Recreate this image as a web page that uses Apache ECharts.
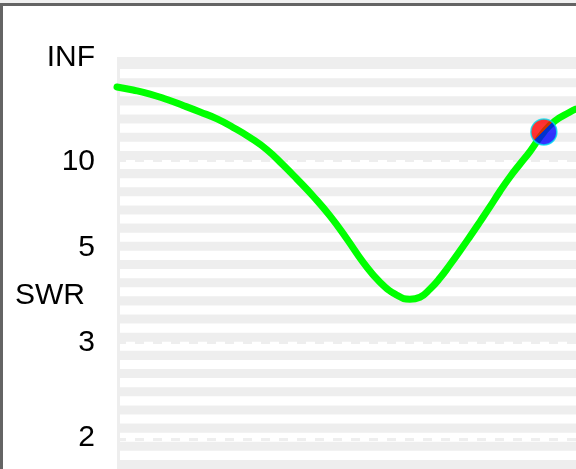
<!DOCTYPE html>
<html><head><meta charset="utf-8">
<script src="https://cdn.jsdelivr.net/npm/echarts@6/dist/echarts.min.js"></script>
<style>
html,body{margin:0;padding:0;background:#fff;}
#chart{position:absolute;left:0;top:0;width:576px;height:469px;}
.b{position:absolute;pointer-events:none;}
</style></head><body>
<div id="chart"></div>
<div class="b" style="left:0;top:0;width:576px;height:3px;background:#f0f0f0"></div>
<div class="b" style="left:0;top:3px;width:576px;height:3px;background:#646464"></div>
<div class="b" style="left:0;top:3px;width:3px;height:466px;background:#646464"></div>
<script>
// sweep position (0-100 % of span) and SWR readings
const sweep = [0, 3.5, 7.2, 10.9, 14.4, 18.1, 21.8, 25.3, 29.0, 32.7, 36.2, 39.2, 42.7, 46.4, 50.1, 53.6, 57.3, 61.0, 63.8, 66.0, 68.2, 70.4, 72.5, 74.7, 76.9, 79.1, 81.3, 83.4, 85.6, 87.8, 90.0, 93.0, 95.4, 98.7, 100];
const swr = [38.3, 34.6, 30.6, 26.4, 23.0, 20.1, 17.7, 15.4, 13.3, 11.4, 9.64, 8.41, 7.25, 6.21, 5.29, 4.58, 4.08, 3.80, 3.72, 3.76, 3.93, 4.18, 4.50, 4.90, 5.38, 5.96, 6.67, 7.53, 8.57, 9.74, 11.2, 14.4, 17.1, 20.1, 21.3];
const markerSweep = [93.0];
const markerSWR = [14.4];
const tickSWR = [Infinity, 10, 5, 3, 2];
const tickLabels = ['INF', '10', '5', '3', '2'];
const axisTitle = 'SWR';

function gamma(s) { return isFinite(s) ? (s - 1) / (s + 1) : 1; }
const tickGamma = tickSWR.map(gamma);

const lineData = sweep.map((x, i) => [x, gamma(swr[i])]);
const markerData = markerSweep.map((x, i) => [x, gamma(markerSWR[i])]);

const FONT = '"Liberation Sans", Arial, sans-serif';
const chart = echarts.init(document.getElementById('chart'), null, {renderer: 'canvas'});
chart.setOption({
  animation: false,
  backgroundColor: '#ffffff',
  grid: [
    {left: 117, right: 0, top: 57, bottom: 0, show: true, backgroundColor: '#eeeeee', borderWidth: 0},
    {left: 120, right: 0, top: 60, bottom: 0, show: false}
  ],
  xAxis: [
    {gridIndex: 0, type: 'value', min: 0, max: 100, show: false},
    {gridIndex: 1, type: 'value', min: 0, max: 1, show: false}
  ],
  yAxis: [
    {
      gridIndex: 0, type: 'value', min: 0.27806, max: 1.00176,
      axisLine: {show: false}, axisTick: {show: false}, splitLine: {show: false},
      axisLabel: {
        customValues: tickGamma,
        margin: 22, color: '#000', fontSize: 30, fontFamily: FONT,
        formatter: function (v) {
          for (let i = 0; i < tickGamma.length; i++) {
            if (Math.abs(tickGamma[i] - v) < 1e-6) return tickLabels[i];
          }
          return '';
        }
      }
    },
    {
      gridIndex: 1, type: 'value', min: 0, max: 45, interval: 1, inverse: true,
      axisLine: {show: false}, axisTick: {show: false}, axisLabel: {show: false},
      splitLine: {show: false},
      splitArea: {show: true, areaStyle: {color: ['rgba(0,0,0,0)', '#ffffff']}}
    }
  ],
  graphic: [{
    type: 'text', x: 15, y: 296, silent: true,
    style: {text: axisTitle, fontSize: 30, fontFamily: FONT, fill: '#000', verticalAlign: 'middle'}
  }],
  series: [
    {
      type: 'line', xAxisIndex: 0, yAxisIndex: 0, data: [], z: 1, silent: true,
      markLine: {
        z: 1, silent: true, symbol: ['none', 'none'], label: {show: false},
        lineStyle: {color: '#eeeeee', type: [9, 9], width: 3},
        data: tickGamma.map(g => ({yAxis: g}))
      }
    },
    {
      type: 'line', xAxisIndex: 0, yAxisIndex: 0, data: lineData, z: 3,
      showSymbol: false, smooth: 0.5, clip: false,
      lineStyle: {color: '#00ff00', width: 7, cap: 'round', join: 'round'}
    },
    {
      type: 'scatter', xAxisIndex: 0, yAxisIndex: 0, data: markerData, z: 4,
      symbol: 'circle', symbolSize: 26,
      itemStyle: {
        color: new echarts.graphic.LinearGradient(0, 0, 1, 1, [
          {offset: 0, color: '#ff0000'}, {offset: 0.48, color: '#ff0000'},
          {offset: 0.48, color: '#0000ff'}, {offset: 1, color: '#0000ff'}
        ]),
        borderColor: '#00e0f0', borderWidth: 1.5
      }
    }
  ]
});
</script>
</body></html>
